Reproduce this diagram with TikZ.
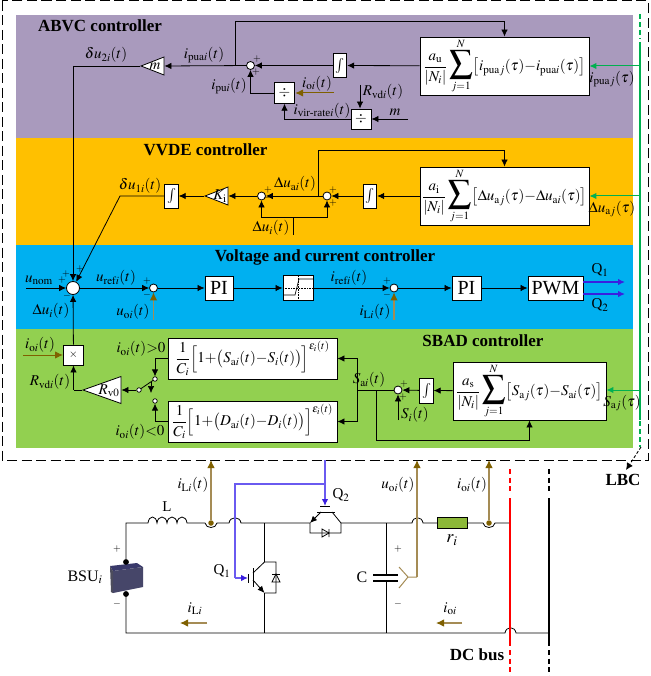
\documentclass[tikz,border=0pt]{standalone}
\usepackage{amsmath, amssymb}
\usepackage{mathptmx}
\usepackage{fontspec}
\setmainfont{Liberation Serif}
\usepackage{tikz}
\usetikzlibrary{arrows.meta, shapes.geometric}
\definecolor{bandA}{HTML}{A99ABD}
\definecolor{bandV}{HTML}{FFC000}
\definecolor{bandC}{HTML}{00B0F0}
\definecolor{bandS}{HTML}{92D050}
\definecolor{linkgreen}{HTML}{00B050}
\definecolor{senseBrown}{HTML}{7F6000}
\definecolor{senseTan}{HTML}{A58C55}
\definecolor{gateBlue}{HTML}{3A1FE0}
\definecolor{gateSoft}{HTML}{6A5AF0}
\newcommand{\bigsum}{\mathop{\scalebox{1.55}{$\displaystyle\sum$}}\limits}
\newcommand{\gsum}[2]{\displaystyle\frac{#1}{|N_i|}\bigsum_{j=1}^{N}\bigl[#2\bigr]}
\tikzset{
    every node/.style={font=\fontsize{15}{17}\selectfont, inner sep=0pt},
    wire/.style={draw, line width=0.8pt},
    sig/.style={wire, -{Latex[length=7pt,width=6.5pt]}},
    sense/.style={draw=senseBrown, line width=1pt, -{Latex[length=8pt,width=7.5pt]}},
    tansense/.style={draw=senseTan, line width=1.1pt, -{Latex[length=8pt,width=7.5pt,color=senseBrown]}},
    linkarrow/.style={draw=linkgreen, line width=1pt, -{Latex[length=7pt,width=6.5pt]}},
    gatearrow/.style={draw=gateSoft, line width=1.2pt, -{Latex[length=7pt,width=6.5pt,color=gateBlue]}},
    sumpt/.style={circle, draw, fill=white, line width=0.8pt, minimum size=8pt},
    block/.style={draw, fill=white, line width=0.9pt, align=center},
    intbox/.style={block, minimum width=13.5pt, minimum height=24pt},
    gainbox/.style={isosceles triangle, isosceles triangle stretches, shape border rotate=180,
        anchor=apex, draw, fill=white, line width=0.8pt},
    signmark/.style={font=\fontsize{10}{10}\selectfont},
    title/.style={font=\fontsize{17}{19}\bfseries\selectfont},
    swpt/.style={circle, draw, fill=white, line width=0.7pt, minimum size=4.5pt},
    dotpt/.style={circle, fill, minimum size=5.5pt},
}
\begin{document}
\begin{tikzpicture}[x=1pt, y=-1pt]
    \useasboundingbox (0, 0) rectangle (650, 676);
    \fill[white] (0, 0) rectangle (650, 676);
    % controller bands
    \fill[bandA] (16, 15) rectangle (633, 138);
    \fill[bandV] (16, 138) rectangle (633, 245);
    \fill[bandC] (16, 245) rectangle (633, 329);
    \fill[bandS] (16, 329) rectangle (633, 448);
    \draw[line width=1pt, dash pattern=on 10pt off 4.5pt] (2, 1) rectangle (648, 460);
    \node[title] (ttlA) at (100, 26) {ABVC controller};
    \node[title] (ttlV) at (205.5, 150) {VVDE controller};
    \node[title] (ttlC) at (325, 257) {Voltage and current controller};
    \node[title] (ttlS) at (483, 341) {SBAD controller};

    % ABVC controller
    \node[sumpt] (sumA) at (250.5, 65.5) {};
    \node[block, minimum width=169pt, minimum height=58pt] (consA) at (504.5, 66)
        {$\gsum{a_{\mathrm{u}}}{i_{\mathrm{pua}j}(\tau){-}i_{\mathrm{pua}i}(\tau)}$};
    \node[intbox] (intA) at (340, 65.5) {$\int$};
    \node[gainbox, minimum width=18pt, minimum height=23pt] (gainM) at (140, 66) {};
    \node (gainMtxt) at (155, 66) {$m$};
    \node[block, minimum size=20.5pt] (divA) at (284.5, 93) {$\div$};
    \node[block, minimum size=20pt] (divB) at (361, 119) {$\div$};
    \coordinate (brA) at (235, 65.5);
    \coordinate (upA) at (235, 21);
    \coordinate (ioA) at (334, 93);
    \coordinate (rvdA) at (360, 85);
    \coordinate (mIn) at (408, 119);
    \coordinate (linkA) at (640, 66);
    \coordinate (du2A) at (73, 66);
    \draw[sig] (consA) -- (intA);
    \draw[sig] (intA) -- (sumA);
    \draw[sig] (sumA) -- (gainM.east);
    \draw[sig] (brA) -- (upA) -| (consA.north);
    \draw[sig] (divA.west) -| (sumA.south);
    \draw[sig] (divB.west) -| (divA.south);
    \draw[sense] (ioA) -- (divA.east);
    \draw[sig] (rvdA) -- (rvdA |- divB.north);
    \draw[sig] (mIn) -- (divB);
    \draw[linkarrow] (linkA) -- (consA.east |- linkA);
    \node (lbDuTwo) at (106, 55) {$\delta u_{2i}(t)$};
    \node (lbIpua) at (204, 55) {$i_{\mathrm{pua}i}(t)$};
    \node (lbIpu) at (229, 86) {$i_{\mathrm{pu}i}(t)$};
    \node (lbIoA) at (317, 84) {$i_{\mathrm{o}i}(t)$};
    \node (lbIvir) at (322, 111) {$i_{\text{vir-rate}i}(t)$};
    \node (lbRvdA) at (383, 92) {$R_{\mathrm{vd}i}(t)$};
    \node (lbM) at (395, 112) {$m$};
    \node (lbIpuaj) at (612, 79) {$i_{\mathrm{pua}j}(\tau)$};

    % VVDE controller
    \node[sumpt] (sumVa) at (261.5, 196) {};
    \node[sumpt] (sumVb) at (327, 196) {};
    \node[block, minimum width=169pt, minimum height=58pt] (consV) at (504.5, 196)
        {$\gsum{a_{\mathrm{i}}}{\Delta u_{\mathrm{a}j}(\tau){-}\Delta u_{\mathrm{a}i}(\tau)}$};
    \node[intbox] (intVb) at (370, 196) {$\int$};
    \node[intbox] (intVa) at (171.5, 196) {$\int$};
    \node[gainbox, minimum width=18pt, minimum height=23pt] (gainK) at (204, 196) {};
    \node (gainKtxt) at (220, 196) {$K_{\mathrm{i}}$};
    \coordinate (brV) at (318, 196);
    \coordinate (upV) at (318, 150);
    \coordinate (stubTop) at (293, 217);
    \coordinate (stubEnd) at (293, 235);
    \coordinate (kneeV) at (120, 196);
    \coordinate (linkV) at (640, 196);
    \draw[sig] (consV) -- (intVb);
    \draw[sig] (intVb) -- (sumVb);
    \draw[sig] (sumVb) -- (sumVa);
    \draw[sig] (sumVa) -- (gainK.east);
    \draw[sig] (gainK.apex) -- (intVa);
    \draw[sig] (brV) -- (upV) -| (consV.north);
    \draw[wire] (stubEnd) -- (stubTop);
    \draw[sig] (stubTop) -| (sumVa.south);
    \draw[sig] (stubTop) -| (sumVb.south);
    \draw[linkarrow] (linkV) -- (consV.east |- linkV);
    \node (lbDuOne) at (140, 186) {$\delta u_{1i}(t)$};
    \node (lbDuai) at (295, 184) {$\Delta u_{\mathrm{a}i}(t)$};
    \node (lbDui) at (271, 228) {$\Delta u_i(t)$};
    \node (lbDuaj) at (612, 209) {$\Delta u_{\mathrm{a}j}(\tau)$};

    % voltage and current controller
    \node[sumpt, minimum size=13pt] (sumRef) at (73, 288) {};
    \node[sumpt] (sumU) at (153.5, 288) {};
    \node[block, minimum width=28pt, minimum height=24pt, font=\fontsize{20}{20}\selectfont] (piU) at (219, 288) {PI};
    \node[block, minimum width=30pt, minimum height=25pt] (limI) at (298, 288) {};
    \node[sumpt] (sumI) at (394, 288) {};
    \node[block, minimum width=29pt, minimum height=24pt, font=\fontsize{20}{20}\selectfont] (piI) at (466.5, 288) {PI};
    \node[block, minimum width=55pt, minimum height=24pt, font=\fontsize{20}{20}\selectfont] (pwm) at (555.5, 288) {PWM};
    \draw[densely dotted, line width=0.6pt] (283, 288) -- (313, 288) (298, 276) -- (298, 300);
    \draw[line width=0.7pt] (283, 295) -- (295, 295) -- (299, 279) -- (313, 279);
    \coordinate (uNom) at (26, 288);
    \coordinate (uoFb) at (153.5, 320);
    \coordinate (ilFb) at (394, 320);
    \coordinate (qOne) at (625, 282);
    \coordinate (qTwo) at (625, 294);
    \draw[sig] (uNom) -- (sumRef);
    \draw[sig] (sumRef) -- (sumU);
    \draw[sig] (sumU) -- (piU);
    \draw[sig] (piU) -- (limI);
    \draw[sig] (limI) -- (sumI);
    \draw[sig] (sumI) -- (piI);
    \draw[sig] (piI) -- (pwm);
    \draw[tansense] (uoFb) -- (sumU);
    \draw[tansense] (ilFb) -- (sumI);
    \draw[gatearrow, draw=gateBlue, line width=1.3pt] (pwm.east |- qOne) -- (qOne);
    \draw[gatearrow, draw=gateBlue, line width=1.3pt] (pwm.east |- qTwo) -- (qTwo);
    \draw[sig] (du2A) -- (sumRef);
    \draw[wire] (gainM.apex) -- (du2A);
    \draw[sig] (intVa) -- (kneeV) -- (sumRef);
    \node (lbUnom) at (39, 280) {$u_{\mathrm{nom}}$};
    \node (lbUref) at (116, 278) {$u_{\mathrm{ref}i}(t)$};
    \node (lbIref) at (349, 278) {$i_{\mathrm{ref}i}(t)$};
    \node (lbDuiB) at (51, 311) {$\Delta u_i(t)$};
    \node (lbUoi) at (133, 312) {$u_{\mathrm{o}i}(t)$};
    \node (lbIl) at (375, 312) {$i_{\mathrm{L}i}(t)$};
    \node (lbQone) at (600, 270) {Q$_1$};
    \node (lbQtwo) at (600, 305) {Q$_2$};

    % SBAD controller
    \node[block, minimum size=20pt, font=\fontsize{11}{11}\selectfont] (mulR) at (73.5, 355) {$\times$};
    \node[gainbox, minimum width=27pt, minimum height=38pt] (gainR) at (82, 390) {};
    \node (gainRtxt) at (109, 391) {$R_{\mathrm{v}0}$};
    \node[swpt] (swOut) at (139, 390) {};
    \node[swpt] (swUp) at (155, 379) {};
    \node[swpt] (swLo) at (155, 401) {};
    \node[block, minimum width=169pt, minimum height=41pt] (droopP) at (252.5, 358.5)
        {$\displaystyle\frac{1}{C_i}\Bigl[1{+}\bigl(S_{\mathrm{a}i}(t){-}S_i(t)\bigr)\Bigr]^{\varepsilon_i(t)}$};
    \node[block, minimum width=169pt, minimum height=41pt] (droopN) at (252.5, 421.5)
        {$\displaystyle\frac{1}{C_i}\Bigl[1{+}\bigl(D_{\mathrm{a}i}(t){-}D_i(t)\bigr)\Bigr]^{\varepsilon_i(t)}$};
    \node[sumpt] (sumS) at (398, 390) {};
    \node[intbox, minimum height=25pt] (intS) at (426.5, 390.5) {$\int$};
    \node[block, minimum width=153pt, minimum height=58pt] (consS) at (529.5, 391)
        {$\gsum{a_{\mathrm{s}}}{S_{\mathrm{a}j}(\tau){-}S_{\mathrm{a}i}(\tau)}$};
    \coordinate (ioIn) at (23, 355);
    \coordinate (rvdJoin) at (73.5, 390);
    \coordinate (splitS) at (357, 390);
    \coordinate (fbS) at (376, 390);
    \coordinate (fbSlow) at (376, 440);
    \coordinate (siIn) at (398, 420);
    \coordinate (linkS) at (640, 390);
    \draw[sig] (sumS) -- (swOut -| splitS) -- (splitS |- droopP) -- (droopP.east);
    \draw[sig] (splitS) -- (splitS |- droopN) -- (droopN.east);
    \draw[sig] (consS) -- (intS);
    \draw[sig] (intS) -- (sumS);
    \draw[sig] (fbS) -- (fbSlow) -| (consS.south);
    \draw[sig] (siIn) -- (sumS);
    \draw[linkarrow] (linkS) -- (consS.east |- linkS);
    \draw[sense] (ioIn) -- (mulR);
    \draw[sig] (mulR) -- (sumRef);
    \draw[wire] (gainR.apex) -- (rvdJoin);
    \draw[sig] (rvdJoin) -- (mulR);
    \draw[sig] (swOut) -- (gainR.east);
    \draw[wire] (swOut) -- (swUp);
    \draw[sig] (droopP.west) -| (swUp);
    \draw[sig] (droopN.west) -| (swLo);
    \draw[sig, line width=0.6pt] (151, 382) -- (151, 393);
    \node (lbIoIn) at (40, 345) {$i_{\mathrm{o}i}(t)$};
    \node (lbRvd) at (50, 382) {$R_{\mathrm{vd}i}(t)$};
    \node (lbPos) at (141, 349) {$i_{\mathrm{o}i}(t){>}0$};
    \node (lbNeg) at (140, 432) {$i_{\mathrm{o}i}(t){<}0$};
    \node (lbSai) at (369, 380) {$S_{\mathrm{a}i}(t)$};
    \node (lbSi) at (415, 415) {$S_i(t)$};
    \node (lbSaj) at (622, 403) {$S_{\mathrm{a}j}(\tau)$};

    % summing point signs
    \foreach \x/\y [count=\k] in {66/274, 80/269, 62/280, 147/281, 387/281, 257/59, 256/72,
        268/190, 333/190, 333/203, 404/384, 403/397}
        \node[signmark] (plus\k) at (\x, \y) {$+$};
    \foreach \x/\y [count=\k] in {67/296, 147/295, 387/295, 267/198}
        \node[signmark] (minus\k) at (\x, \y) {$-$};

    % peer link line
    \draw[linkgreen, line width=2.4pt] (640, 42) -- (640, 420);
    \draw[linkgreen, line width=2.4pt, dash pattern=on 5pt off 3pt] (640, 14) -- (640, 39);
    \draw[linkgreen, line width=2.4pt, dash pattern=on 5pt off 3pt] (640, 421) -- (640, 447);
    \coordinate (lbcTop) at (641, 447);
    \node[font=\fontsize{17}{19}\bfseries\selectfont] (lbLBC) at (623, 480) {LBC};
    \draw[line width=0.9pt, densely dashed, -{Latex[length=7pt,width=7pt]}] (lbcTop) -- (626, 470);

    % converter power stage
    \coordinate (railL) at (126, 523);
    \coordinate (botL) at (126, 633);
    \coordinate (swDown) at (264.5, 523);
    \coordinate (swFoot) at (264.5, 633);
    \coordinate (capTop) at (386, 523);
    \coordinate (capBot) at (386, 633);
    \node[dotpt] (batP) at (126, 562) {};
    \node[dotpt] (batN) at (126, 594) {};
    \node[dotpt, fill=senseBrown] (tapL) at (211, 523) {};
    \node[dotpt, fill=senseBrown] (tapO) at (489, 523) {};
    \draw[wire] (batP) -- (railL) -- (148, 523)
        .. controls (149, 515) and (156, 515) .. (157, 523)
        .. controls (158, 515) and (166, 515) .. (167, 523)
        .. controls (168, 515) and (176, 515) .. (177, 523)
        .. controls (178, 515) and (186, 515) .. (187, 523)
        -- (205, 523) .. controls (206, 529) and (216, 529) .. (217, 523)
        -- (229, 523) .. controls (230, 516) and (240, 516) .. (241, 523)
        -- (310, 523);
    \draw[wire] (batN) -- (botL) -- (505, 633)
        .. controls (506, 626) and (515, 626) .. (516, 633) -- (549, 633);
    \draw[wire] (341, 523) -- (412, 523) .. controls (413, 516) and (422, 516) .. (423, 523)
        -- (437, 523) (467, 523) -- (483, 523) .. controls (484, 529) and (494, 529) .. (495, 523)
        -- (510, 523);
    \draw[wire] (capTop) -- (386, 575) (386, 581) -- (capBot);
    \draw[line width=1.2pt] (373, 575) -- (398, 575) (373, 581) -- (398, 581);
    \draw[wire] (swDown) -- (264.5, 562) (264.5, 593) -- (swFoot);
    \draw[draw=black, fill=bandS!70!olive, line width=0.9pt] (437, 517) rectangle (467, 528);
    % battery
    \fill[black!65!blue!55!gray] (110, 566) -- (137, 563) -- (143, 567) -- (113, 571) -- cycle;
    \fill[black!70!blue!45!gray] (113, 571) -- (143, 567) -- (143, 587) -- (113, 593) -- cycle;
    \fill[black!85!blue!40!gray] (110, 566) -- (113, 571) -- (113, 593) -- (111, 592) -- cycle;
    \node[dotpt] (batPb) at (126, 562) {};
    \node[dotpt] (batNb) at (126, 594) {};
    % lower switch
    \draw[wire] (253, 568) -- (253, 587) (248, 574) -- (248, 583);
    \draw[wire] (253, 573) -- (264.5, 562) -- (276, 562) -- (276, 593) -- (264.5, 593);
    \draw[wire, -{Latex[length=7pt,width=6pt]}] (253, 580) -- (264.5, 593);
    \draw[wire] (272, 574) -- (280, 574);
    \draw[wire] (276, 574) -- (272, 582) -- (280, 582) -- cycle;
    % upper switch
    \draw[wire] (317, 512) -- (335, 512) (320, 506) -- (330, 506);
    \draw[wire] (332, 512) -- (341, 523) -- (341, 533) -- (310, 533) -- (310, 523);
    \draw[wire, -{Latex[length=7pt,width=6pt]}] (321, 512) -- (310, 523);
    \draw[wire] (322, 529) -- (329, 533) -- (322, 537) -- cycle (329, 529) -- (329, 537);
    % gate signals
    \coordinate (gateTop) at (325, 460);
    \coordinate (gateFork) at (325, 484);
    \coordinate (gateCor) at (235, 484);
    \coordinate (gateQa) at (235, 578);
    \coordinate (gateQb) at (325, 506);
    \coordinate (gateEnd) at (248, 578);
    \draw[gatearrow] (gateTop) -- (gateQb);
    \draw[draw=gateSoft, line width=1.2pt] (gateFork) -- (gateCor) -- (gateQa);
    \draw[gatearrow] (gateQa) -- (gateEnd);
    % measurements
    \coordinate (tipL) at (211, 460);
    \coordinate (tipU) at (417, 460);
    \coordinate (tipO) at (489, 460);
    \coordinate (senseU) at (417, 577);
    \draw[tansense] (tapL) -- (tipL);
    \draw[tansense] (tapO) -- (tipO);
    \draw[tansense] (senseU) -- (tipU);
    \draw[senseTan, line width=1pt] (399, 567) -- (408, 577) -- (399, 588) (408, 577) -- (senseU);
    \coordinate (arrL) at (207, 623);
    \coordinate (arrO) at (462, 623);
    \draw[tansense] (arrL) -- (180, 623);
    \draw[tansense] (arrO) -- (436, 623);
    % bus bars
    \foreach \x/\c in {510/red, 549/black} {
        \draw[\c, line width=2.4pt] (\x, 498) -- (\x, 646);
        \draw[\c, line width=2.4pt, dash pattern=on 5pt off 3.5pt] (\x, 469) -- (\x, 493);
        \draw[\c, line width=2.4pt, dash pattern=on 5pt off 3.5pt] (\x, 650) -- (\x, 676);
    }
    \node (lbL) at (167, 507) {L};
    \node (lbIlt) at (193, 485) {$i_{\mathrm{L}i}(t)$};
    \node (lbQa) at (222, 571) {Q$_1$};
    \node (lbQb) at (341, 495) {Q$_2$};
    \node[font=\fontsize{16}{18}\selectfont] (lbBSU) at (85, 577) {BSU$_i$};
    \node[signmark] (batPlus) at (117, 549) {$+$};
    \node[signmark] (batMinus) at (117, 604) {$-$};
    \node (lbIla) at (195, 609) {$i_{\mathrm{L}i}$};
    \node[font=\fontsize{16}{18}\selectfont] (lbC) at (362, 577) {C};
    \node[signmark] (capPlus) at (398, 549) {$+$};
    \node[signmark] (capMinus) at (398, 604) {$-$};
    \node (lbUoc) at (398, 485) {$u_{\mathrm{o}i}(t)$};
    \node (lbIoc) at (472, 485) {$i_{\mathrm{o}i}(t)$};
    \node[font=\fontsize{18}{18}\selectfont] (lbR) at (452, 540) {$r_i$};
    \node (lbIob) at (450, 609) {$i_{\mathrm{o}i}$};
    \node[font=\fontsize{17}{19}\bfseries\selectfont] (lbDC) at (477, 655) {DC bus};
\end{tikzpicture}
\end{document}
